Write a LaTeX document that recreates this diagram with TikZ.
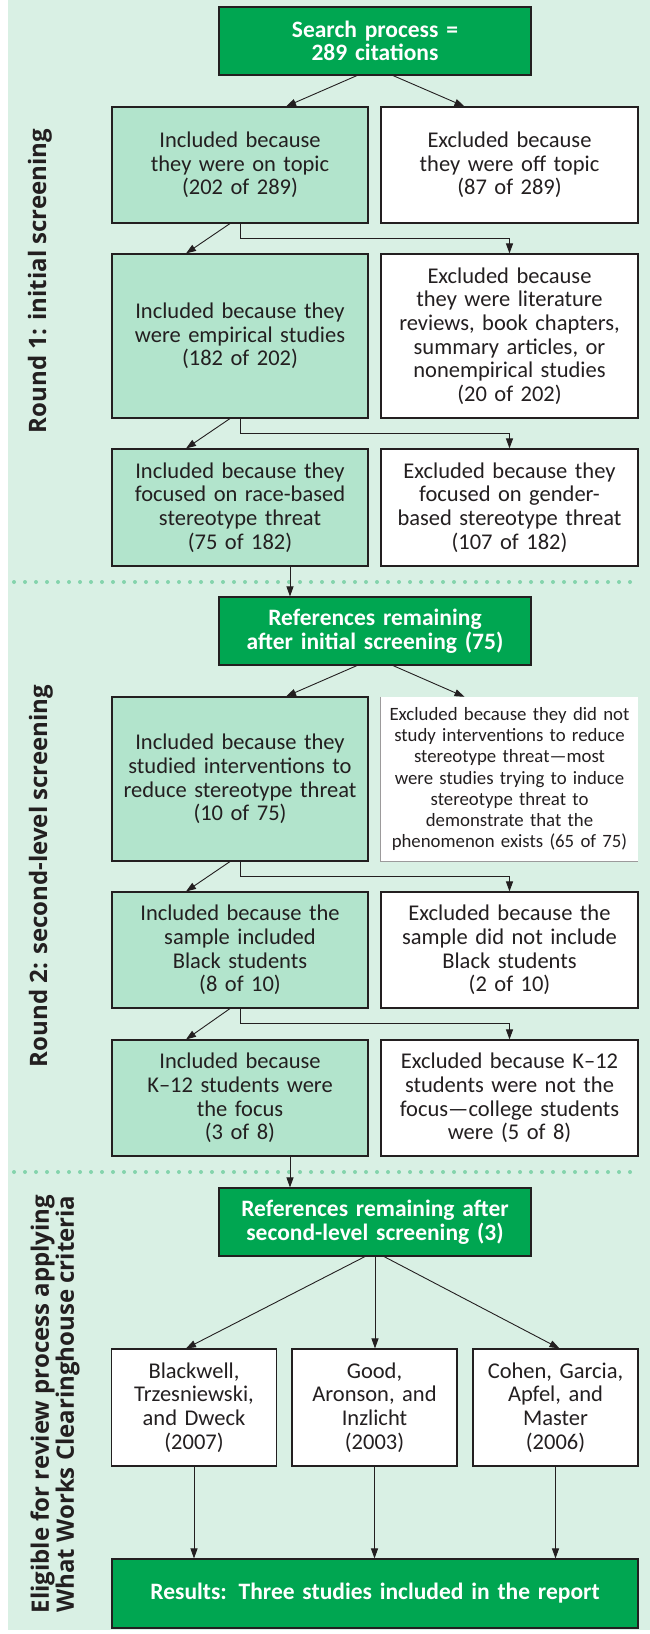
\documentclass[tikz,border=0pt]{standalone}
\usepackage{fontspec}
\setmainfont{Carlito}
\newfontfamily\sidefont{Open Sans}
\usetikzlibrary{arrows.meta,calc,positioning}
\definecolor{Ink}{HTML}{231F20}
\definecolor{Mint}{HTML}{D9F0E4}
\definecolor{Leaf}{HTML}{B2E4CC}
\definecolor{Forest}{HTML}{00A651}
\definecolor{Dots}{HTML}{84D4AC}
\newcommand\bodytxt{\fontsize{22.5}{23.7}\selectfont}
\newcommand\smalltxt{\fontsize{18.8}{21.3}\selectfont}
\newcommand\headtxt{\bfseries\fontsize{23.5}{23.5}\selectfont}
\newcommand\sidetxt{\sidefont\bfseries\fontsize{24}{25}\selectfont}

\begin{document}
\begin{tikzpicture}[x=1pt,y=-1pt,
  every node/.style={align=center,text=Ink,inner sep=0pt},
  incl/.style={draw=Ink,line width=1.1pt,fill=Leaf,minimum width=256pt,text width=250pt,font=\bodytxt},
  excl/.style={draw=Ink,line width=1.1pt,fill=white,minimum width=257pt,text width=251pt,font=\bodytxt},
  head/.style={draw=Ink,line width=1.1pt,fill=Forest,text=white,minimum width=312pt,minimum height=68pt,text width=306pt,font=\headtxt},
  study/.style={draw=Ink,line width=1.1pt,fill=white,minimum width=165pt,minimum height=117pt,text width=159pt,font=\bodytxt},
  side/.style={rotate=90,font=\sidetxt},
  arr/.style={draw=Ink,line width=0.9pt,-{Triangle[length=10pt,width=7pt]}},
  dots/.style={draw=Dots,line width=4pt,line cap=round,dash pattern=on 0pt off 11pt}]
  \useasboundingbox (0,0) rectangle (650,1634);
  \fill[Mint] (8,0) rectangle (650,1630);
  \draw[dots] (14,582) -- (640,582);
  \draw[dots] (14,1172) -- (640,1172);

  % round 1
  \node[head] (s0) at (375,41) {Search process =\\289 citations};
  \node[incl,minimum height=116pt] (r1L) at (240,165) {Included because\\they were on topic\\(202 of 289)};
  \node[excl,minimum height=116pt] (r1R) at (509.5,165) {Excluded because\\they were off topic\\(87 of 289)};
  \node[incl,minimum height=164pt] (r2L) at (240,336) {Included because they\\were empirical studies\\(182 of 202)};
  \node[excl,minimum height=164pt] (r2R) at (509.5,336) {Excluded because\\they were literature\\reviews, book chapters,\\summary articles, or\\nonempirical studies\\(20 of 202)};
  \node[incl,minimum height=117pt] (r3L) at (240,507.5) {Included because they\\focused on race-based\\stereotype threat\\(75 of 182)};
  \node[excl,minimum height=117pt] (r3R) at (509.5,507.5) {Excluded because they\\focused on gender-\\based stereotype threat\\(107 of 182)};

  % round 2
  \node[head] (ref2) at (375,631) {References remaining\\after initial screening (75)};
  \node[incl,minimum height=164pt] (r4L) at (240,779) {Included because they\\studied interventions to\\reduce stereotype threat\\(10 of 75)};
  \node[fill=white,minimum width=257pt,minimum height=164pt,text width=251pt,font=\smalltxt] (r4R) at (509.5,779) {Excluded because they did not\\study interventions to reduce\\stereotype threat---most\\were studies trying to induce\\stereotype threat to\\demonstrate that the\\phenomenon exists (65 of 75)};
  \draw[Ink!45,line width=.7pt] (r4R.north west) |- (r4R.south east);
  \node[incl,minimum height=116pt] (r5L) at (240,950) {Included because the\\sample included\\Black students\\(8 of 10)};
  \node[excl,minimum height=116pt] (r5R) at (509.5,950) {Excluded because the\\sample did not include\\Black students\\(2 of 10)};
  \node[incl,minimum height=116pt] (r6L) at (240,1098) {Included because\\K--12 students were\\the focus\\(3 of 8)};
  \node[excl,minimum height=116pt] (r6R) at (509.5,1098) {Excluded because K--12\\students were not the\\focus---college students\\were (5 of 8)};

  % eligible for review
  \node[head] (ref3) at (375,1222) {References remaining after\\second-level screening (3)};
  \node[study] (b1) at (194,1407.5) {Blackwell,\\Trzesniewski,\\and Dweck\\(2007)};
  \node[study] (b2) at (374.5,1407.5) {Good,\\Aronson, and\\Inzlicht\\(2003)};
  \node[study] (b3) at (555.5,1407.5) {Cohen, Garcia,\\Apfel, and\\Master\\(2006)};
  \node[head,minimum width=526pt,minimum height=69pt,text width=520pt] (res) at (375,1593.5) {Results: Three studies included in the report};

  \node[side] (lab1) at (40,281) {Round 1: initial screening};
  \node[side] (lab2) at (41,876) {Round 2: second-level screening};
  \node[side,font=\sidetxt] (lab3) at (55,1404) {Eligible for review process applying\\What Works Clearinghouse criteria};

  % arrows
  \draw[arr] ([xshift=-18pt]s0.south) -- ([xshift=46pt]r1L.north);
  \draw[arr] ([xshift=18pt]s0.south) -- ([xshift=-45pt]r1R.north);
  \draw[arr] ([xshift=-10pt]r1L.south) -- ([xshift=-54pt]r2L.north);
  \draw[arr] (r1L.south) -- ++(0,14.5) -| (r2R.north);
  \draw[arr] ([xshift=-10pt]r2L.south) -- ([xshift=-54pt]r3L.north);
  \draw[arr] (r2L.south) -- ++(0,14.5) -| (r3R.north);
  \draw[arr] ([xshift=50pt]r3L.south) -- ([xshift=50pt]r3L.south |- ref2.north);
  \draw[arr] ([xshift=-18pt]ref2.south) -- ([xshift=46pt]r4L.north);
  \draw[arr] ([xshift=18pt]ref2.south) -- ([xshift=-45pt]r4R.north);
  \draw[arr] ([xshift=-10pt]r4L.south) -- ([xshift=-54pt]r5L.north);
  \draw[arr] (r4L.south) -- ++(0,14.5) -| (r5R.north);
  \draw[arr] ([xshift=-10pt]r5L.south) -- ([xshift=-54pt]r6L.north);
  \draw[arr] (r5L.south) -- ++(0,14.5) -| (r6R.north);
  \draw[arr] ([xshift=50pt]r6L.south) -- ([xshift=50pt]r6L.south |- ref3.north);
  \draw[arr] ([xshift=-10pt]ref3.south) -- ([xshift=-8pt]b1.north);
  \draw[arr] (ref3.south) -- (ref3.south |- b2.north);
  \draw[arr] ([xshift=9pt]ref3.south) -- ([xshift=4pt]b3.north);
  \foreach \b in {b1,b2,b3}
    \draw[arr] (\b.south) -- (\b.south |- res.north);
\end{tikzpicture}
\end{document}
